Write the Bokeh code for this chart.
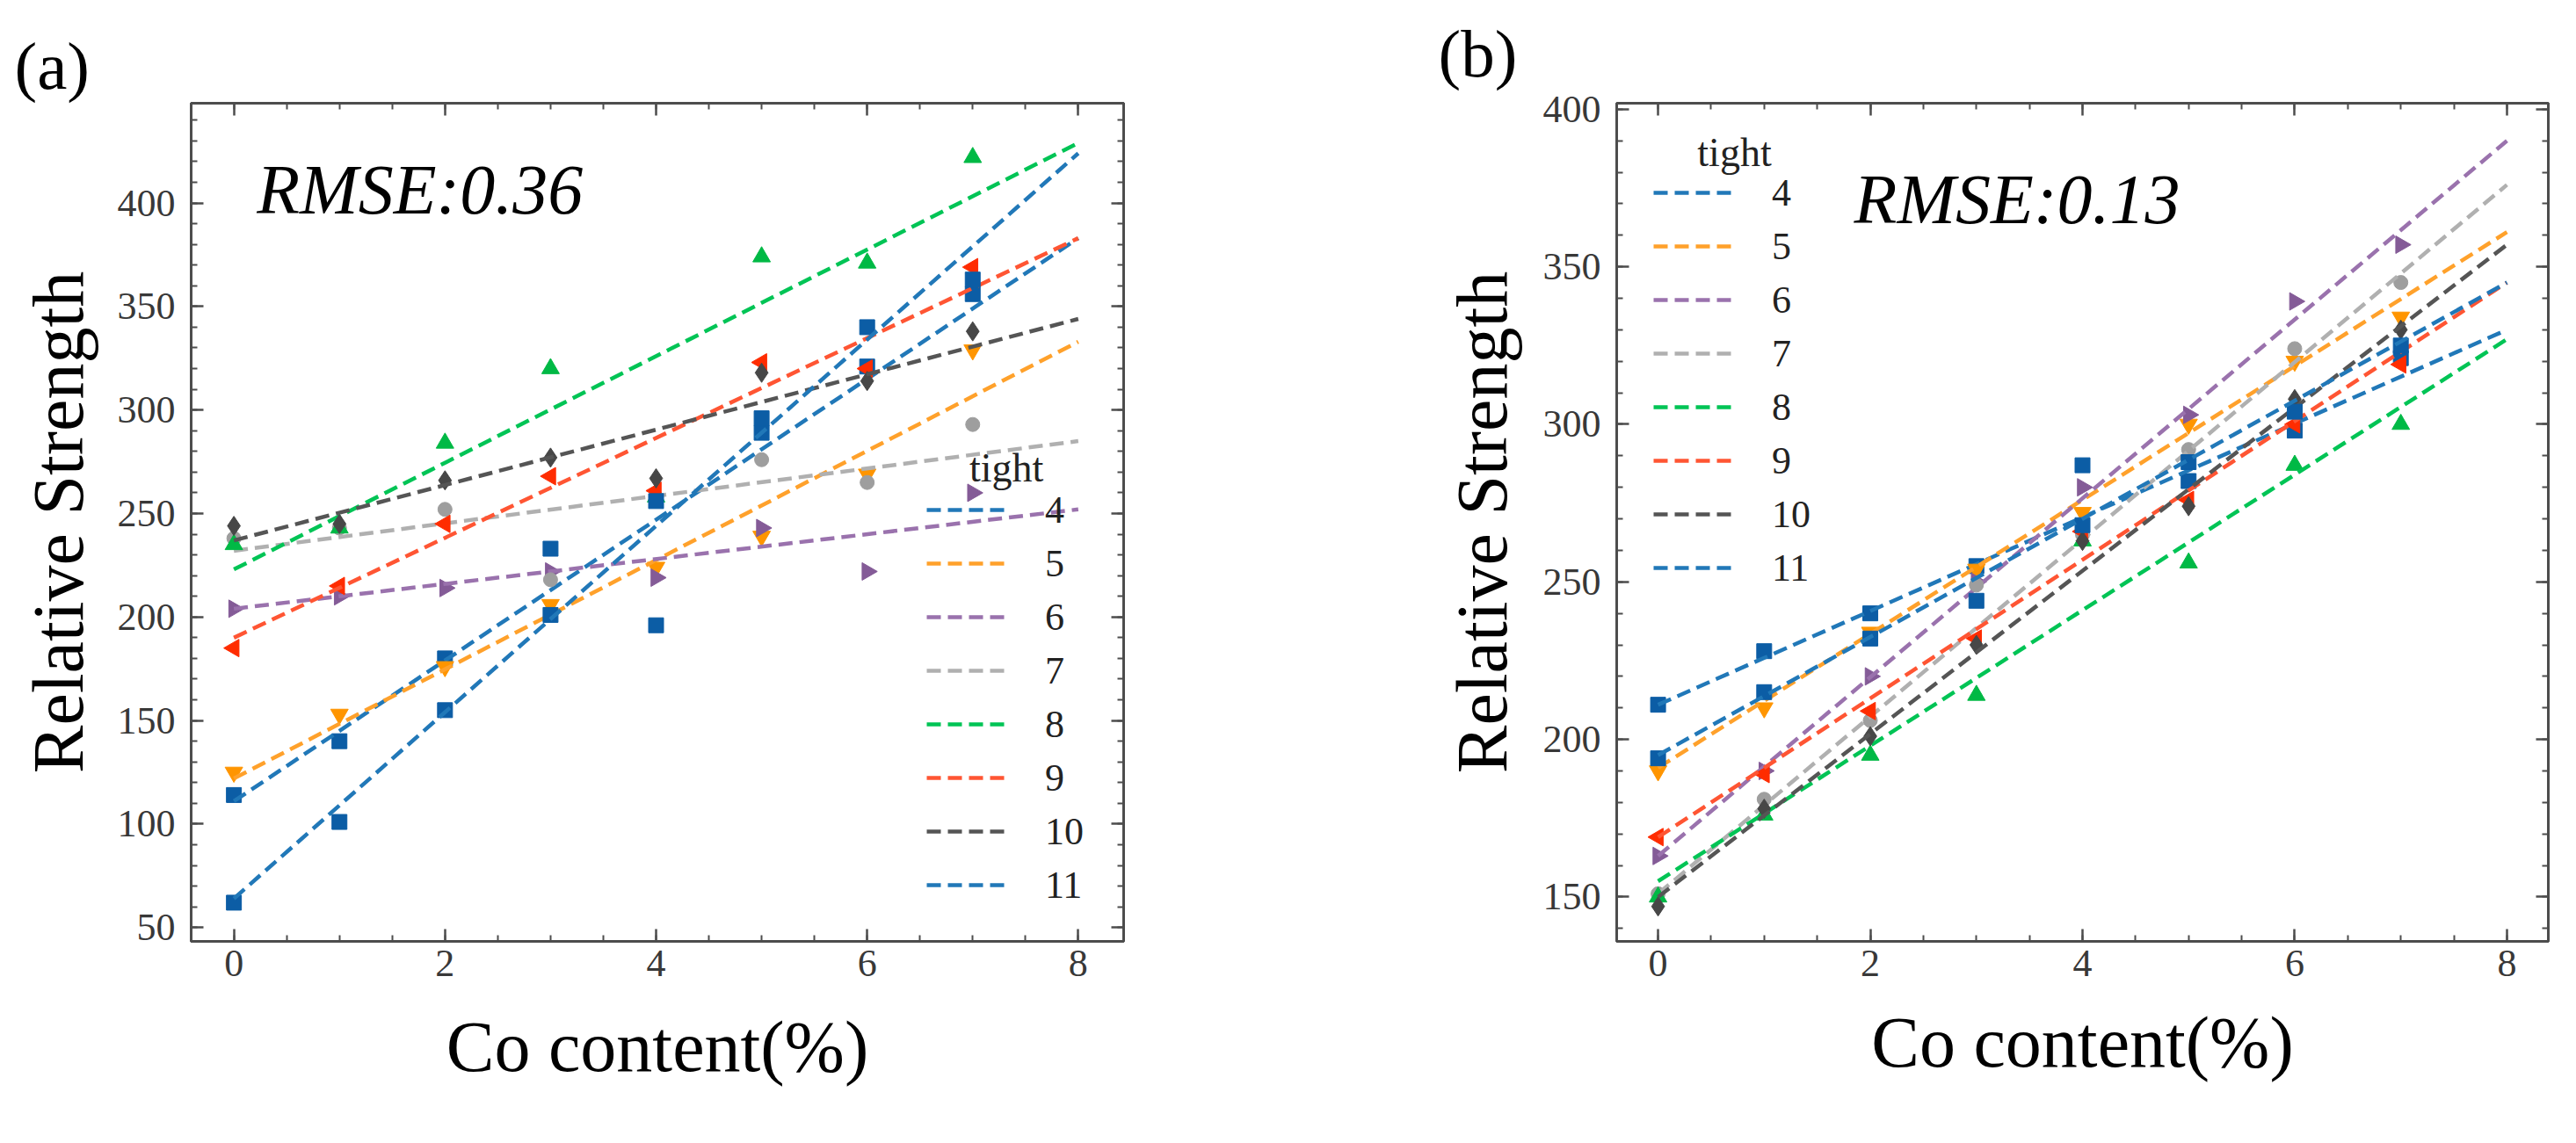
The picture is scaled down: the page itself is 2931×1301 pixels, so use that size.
import numpy as np
from bokeh.plotting import figure
from bokeh.models import (Range1d, SingleIntervalTicker, LinearAxis, Legend, LegendItem,
                          Label, Title)
from bokeh.layouts import row
from bokeh.embed import file_html
from bokeh.resources import INLINE

# ---------------- data ----------------
co_content = [0, 1, 2, 3, 4, 5, 6, 7]
fit_x = [0, 8]
tight_labels = ["4", "5", "6", "7", "8", "9", "10", "11"]

# panel (a) measured points
a_t4 = [114, 140, 180, 233, 196, 289, 321, 356]
a_t5 = [125, 153, 176, 206, 224, 239, 269, 329]
a_t6 = [204, 210, 214, 222, 219, 243, 222, 260]
a_t7 = [238, 243, 252, 218, 258, 276, 265, 293]
a_t8 = [235, 243, 284, 320, 258, 374, 371, 422]
a_t9 = [185, 215, 245, 268, 261, 323, 320, 369]
a_t10 = [244, 245, 266, 277, 267, 318, 314, 338]
a_t11 = [62, 101, 155, 201, 256, 296, 340, 363]
# panel (a) fitted lines at Co = 0 and Co = 8
a_fit_start = [111, 122, 204, 232, 223, 190, 237, 64]
a_fit_end = [383, 333, 252, 285, 429, 383, 344, 424]

# panel (b) measured points
b_t4 = [211, 228, 240, 255, 287, 282, 298, 321]
b_t5 = [190, 210, 234, 254, 272, 300, 320, 334]
b_t6 = [163, 190, 220, 250, 280, 303, 339, 357]
b_t7 = [151, 181, 206, 249, 265, 292, 324, 345]
b_t8 = [150, 176, 195, 214, 263, 256, 287, 300]
b_t9 = [169, 189, 209, 232, 266, 276, 300, 319]
b_t10 = [147, 178, 201, 230, 263, 274, 308, 330]
b_t11 = [194, 215, 232, 244, 268, 288, 304, 325]
# panel (b) fitted lines at Co = 0 and Co = 8
b_fit_start = [211, 191, 163, 151, 155, 169, 150, 195]
b_fit_end = [330, 361, 390, 376, 327, 345, 357, 345]

# ---------------- styles ----------------
line_colors = ["#2178b8", "#ffa12b", "#9a72ad", "#b0b0b0", "#00c455", "#ff5533", "#555555", "#2178b8"]
mark_colors = ["#0C5DA5", "#FF9500", "#845B97", "#9e9e9e", "#00B945", "#FF2C00", "#474747", "#0C5DA5"]
markers = ["square", "inverted_triangle", "triangle", "circle", "triangle", "triangle", "diamond", "square"]
angles = [0, 0, -np.pi / 2, 0, 0, np.pi / 2, 0, 0]
sizes = [17, 20, 20, 16, 20, 20, 22, 17]
FRAME = "#4d4d4d"
SERIF = "Liberation Serif"


def style_axis(ax, labels):
    ax.axis_line_color = FRAME
    ax.axis_line_width = 3
    ax.major_tick_in = 14
    ax.major_tick_out = 0
    ax.minor_tick_in = 7
    ax.minor_tick_out = 0
    ax.major_tick_line_color = FRAME
    ax.major_tick_line_width = 2.5
    ax.minor_tick_line_color = FRAME
    ax.minor_tick_line_width = 2
    if labels:
        ax.major_label_text_font = SERIF
        ax.major_label_text_font_size = "44px"
        ax.major_label_text_color = "#383838"
    else:
        ax.major_label_text_color = None
        ax.major_label_text_font_size = "1px"
        ax.major_label_standoff = 0


def make_panel(width, borders, xr, yr, series, fit_start, fit_end, legend_loc,
               tight_pos, rmse_text, rmse_pos, tag, tag_off, tag_standoff,
               ylab_off, ylab_standoff, xlab_off, xlab_standoff):
    bl, br, bt, bb = borders
    p = figure(width=width, height=1285, x_range=Range1d(*xr), y_range=Range1d(*yr),
               output_backend="svg", toolbar_location=None, title=None,
               x_axis_type=None, y_axis_type=None,
               min_border_left=bl, min_border_right=br, min_border_top=bt, min_border_bottom=bb)
    p.outline_line_color = FRAME
    p.outline_line_width = 3
    p.background_fill_color = "white"

    for place, is_x, lab in (("below", True, True), ("above", True, False),
                             ("left", False, True), ("right", False, False)):
        ticker = (SingleIntervalTicker(interval=2, num_minor_ticks=4) if is_x
                  else SingleIntervalTicker(interval=50, num_minor_ticks=5))
        ax = LinearAxis(ticker=ticker)
        style_axis(ax, lab)
        if lab:
            ax.major_label_standoff = 10 if is_x else 18
        p.add_layout(ax, place)

    items = []
    for i, ys in enumerate(series):
        p.scatter(co_content, ys, marker=markers[i], size=sizes[i], angle=angles[i],
                  fill_color=mark_colors[i], line_color=mark_colors[i])
        r = p.line(fit_x, [fit_start[i], fit_end[i]], line_color=line_colors[i],
                   line_width=4.5, line_dash="16 8")
        items.append(LegendItem(label=tight_labels[i], renderers=[r]))

    leg = Legend(items=items, location=legend_loc, padding=0, margin=0, spacing=1,
                 glyph_width=95, glyph_height=60, label_height=60, label_standoff=40,
                 label_text_font=SERIF, label_text_font_size="44px", label_text_color="#222222",
                 background_fill_alpha=0, border_line_alpha=0)
    p.add_layout(leg)

    p.add_layout(Label(x=tight_pos[0], y=tight_pos[1], text="tight", text_font=SERIF,
                       text_font_size="46px", text_color="#222222",
                       text_align="center", text_baseline="middle"))
    p.add_layout(Label(x=rmse_pos[0], y=rmse_pos[1], text=rmse_text, text_font=SERIF,
                       text_font_style="italic", text_font_size="80px", text_color="black",
                       text_align="left", text_baseline="alphabetic"))

    p.add_layout(Title(text=tag, align="left", offset=tag_off, standoff=tag_standoff,
                       text_font=SERIF, text_font_size="77px", text_font_style="normal",
                       text_color="black"), "above")
    p.add_layout(Title(text="Relative Strength", align="center", offset=ylab_off,
                       standoff=ylab_standoff, text_font=SERIF, text_font_size="82px",
                       text_font_style="normal", text_color="black"), "left")
    p.add_layout(Title(text="Co content(%)", align="center", offset=xlab_off,
                       standoff=xlab_standoff, text_font=SERIF, text_font_size="82px",
                       text_font_style="normal", text_color="black"), "below")
    return p


pa = make_panel(1500, (216, 222, 105, 214), (-0.405, 8.43), (43.3, 448.2),
                [a_t4, a_t5, a_t6, a_t7, a_t8, a_t9, a_t10, a_t11],
                a_fit_start, a_fit_end, (837, 34), (7.32, 272.1), "RMSE:0.36", (0.217, 406.2),
                "(a)", -201, 0, 15, 37, -105, 60)
pb = make_panel(1415, (339, 16, 117, 205), (-0.39, 8.39), (135.9, 401.9),
                [b_t4, b_t5, b_t6, b_t7, b_t8, b_t9, b_t10, b_t11],
                b_fit_start, b_fit_end, (42, 395), (0.72, 386.2), "RMSE:0.13", (1.847, 371.3),
                "(b)", -203, 28, -32, 42, -80, 51)

layout = row(pa, pb)
open("out.html", "w").write(file_html(layout, INLINE))
